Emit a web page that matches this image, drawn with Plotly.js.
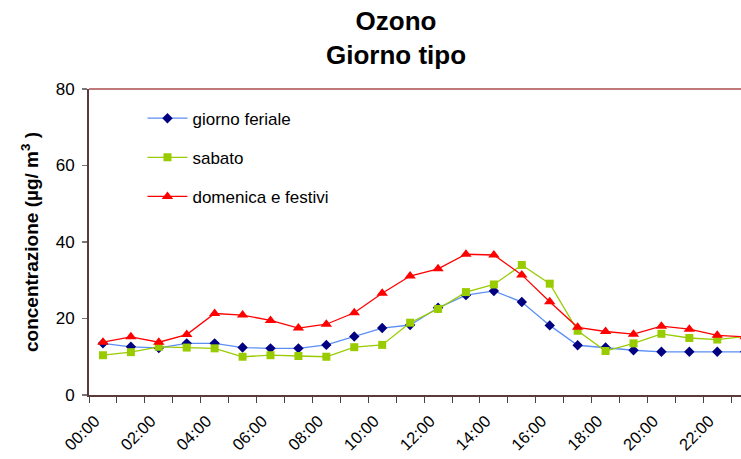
<!DOCTYPE html>
<html>
<head>
<meta charset="utf-8">
<script src="https://cdn.plot.ly/plotly-3.0.1.min.js"></script>
<style>html,body{margin:0;padding:0;background:#fff;}#chart{width:741px;height:459px;}</style>
</head>
<body>
<div id="chart"></div>
<script>
var hours = ["00:00","01:00","02:00","03:00","04:00","05:00","06:00","07:00","08:00","09:00","10:00","11:00",
             "12:00","13:00","14:00","15:00","16:00","17:00","18:00","19:00","20:00","21:00","22:00","23:00"];
var giornoFeriale = [13.5,12.6,12.3,13.5,13.5,12.4,12.2,12.2,13.1,15.3,17.5,18.3,22.8,26.1,27.2,24.3,18.2,13.0,12.4,11.7,11.3,11.3,11.3,11.3];
var sabato = [10.4,11.2,12.6,12.4,12.2,10.0,10.4,10.2,10.0,12.5,13.1,18.9,22.5,26.9,28.9,34.0,29.1,16.8,11.5,13.5,16.0,14.9,14.5,15.3];
var domenicaFestivi = [13.8,15.2,13.8,15.8,21.3,20.9,19.5,17.5,18.5,21.5,26.6,31.1,33.0,36.8,36.6,31.4,24.4,17.7,16.6,15.9,18.0,17.2,15.6,15.2];
var seriesNames = ["giorno feriale","sabato","domenica e festivi"];
var yTicks = [0,20,40,60,80];

var idx = hours.map(function(h,i){return i;});
var labelIdx = idx.filter(function(i){return i%2===0;});
var labelText = labelIdx.map(function(i){return hours[i];});

var FONT = 'Arial, "Liberation Sans", sans-serif';

var traces = [
  {x: idx, y: giornoFeriale, name: seriesNames[0], mode: 'lines+markers', legendgroup: 'a',
   line: {color: '#5b8ef5', width: 1.3},
   marker: {symbol: 'diamond', size: 8, color: '#000080'}},
  {x: idx, y: sabato, name: seriesNames[1], mode: 'lines+markers', legendgroup: 'b',
   line: {color: '#99cc00', width: 1.3},
   marker: {symbol: 'square', size: 8, color: '#99cc00'}},
  {x: idx, y: domenicaFestivi, name: seriesNames[2], mode: 'lines+markers', legendgroup: 'c',
   line: {color: '#ff0000', width: 1.3},
   marker: {symbol: 'triangle-up', size: 10, color: '#ff0000'}}
];

var layout = {
  width: 741, height: 459,
  margin: {l: 89, r: 0, t: 89, b: 64, pad: 0},
  paper_bgcolor: '#ffffff', plot_bgcolor: '#ffffff',
  font: {family: FONT, color: '#000000', size: 17},
  showlegend: true,
  title: {
    text: '<b>Ozono</b><br><b>Giorno tipo</b>',
    font: {family: FONT, size: 26, color: '#000000'},
    xref: 'container', x: 396/741, xanchor: 'center',
    yref: 'container', y: 1 - 30/459, yanchor: 'top'
  },
  xaxis: {
    type: 'linear', range: [-0.5, 22.85], fixedrange: true,
    tickmode: 'array', tickvals: labelIdx, ticktext: labelText,
    tickangle: -45, ticks: '', ticklabelstandoff: 8, ticklabelshift: -8,
    tickfont: {family: FONT, size: 16.5, color: '#000'},
    showline: true, linecolor: '#5a3a3a', linewidth: 2,
    showgrid: false, zeroline: false,
    minor: {tick0: -0.5, dtick: 1, ticks: 'outside', ticklen: 6, tickcolor: '#444', tickwidth: 1, showgrid: false}
  },
  yaxis: {
    range: [0, 80], fixedrange: true,
    tickmode: 'array', tickvals: yTicks,
    ticks: 'outside', ticklen: 5, tickcolor: '#777', tickwidth: 1.5,
    ticklabelstandoff: 4,
    tickfont: {family: FONT, size: 17, color: '#000'},
    showline: true, linecolor: '#5a3a3a', linewidth: 2,
    showgrid: false, zeroline: false,
    title: {text: '<b>concentrazione (µg/ m<sup>3</sup> )</b>', font: {family: FONT, size: 19, color: '#000'}, standoff: 12}
  },
  legend: {
    x: 0.082, y: 0.962, xanchor: 'left', yanchor: 'top',
    bgcolor: 'rgba(0,0,0,0)', borderwidth: 0, itemwidth: 40,
    font: {family: FONT, size: 17, color: '#000'},
    traceorder: 'grouped', tracegroupgap: 14
  },
  shapes: [
    {type: 'line', xref: 'paper', yref: 'paper', x0: 0, x1: 1, y0: 1, y1: 1,
     line: {color: '#c07878', width: 2}}
  ]
};

Plotly.newPlot('chart', traces, layout, {displayModeBar: false, staticPlot: true});
</script>
</body>
</html>
